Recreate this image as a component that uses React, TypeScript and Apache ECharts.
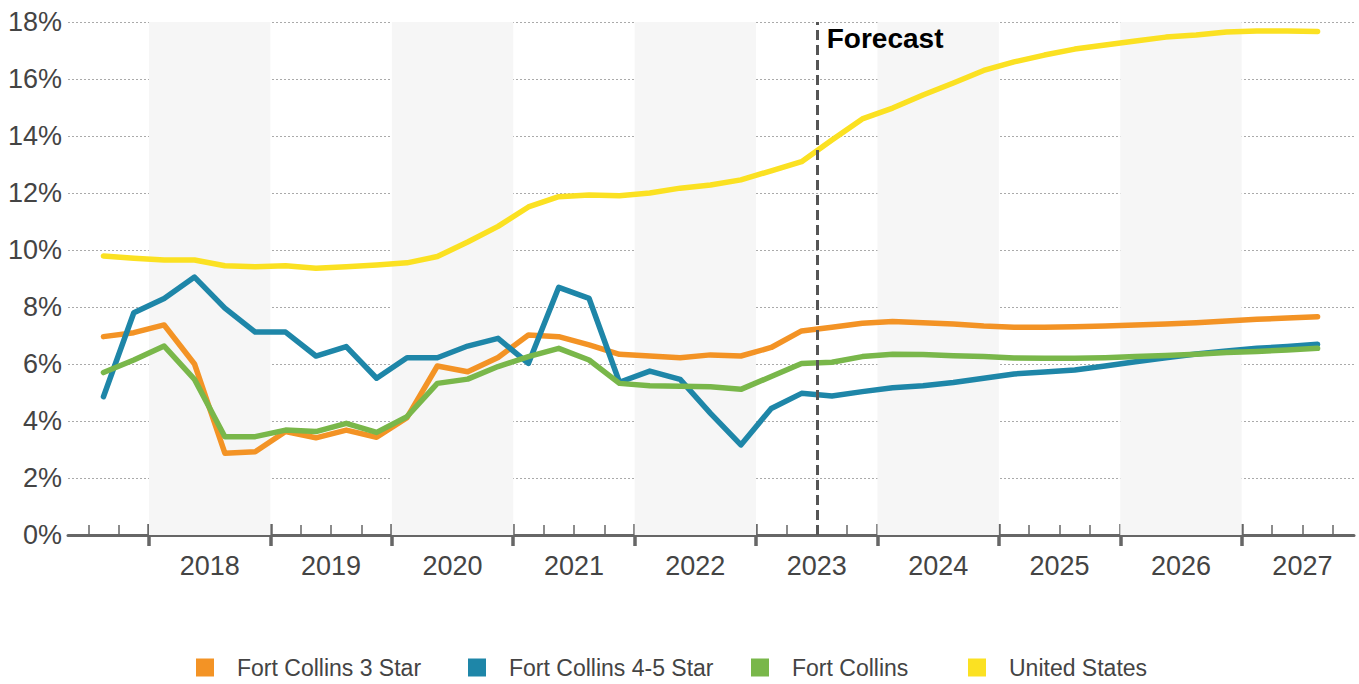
import React, { useEffect, useRef } from 'react';
import * as echarts from 'echarts';

// ---- data (quarterly vacancy, %) ----
const quarters = [
  '2017Q3', '2017Q4',
  '2018Q1', '2018Q2', '2018Q3', '2018Q4',
  '2019Q1', '2019Q2', '2019Q3', '2019Q4',
  '2020Q1', '2020Q2', '2020Q3', '2020Q4',
  '2021Q1', '2021Q2', '2021Q3', '2021Q4',
  '2022Q1', '2022Q2', '2022Q3', '2022Q4',
  '2023Q1', '2023Q2', '2023Q3', '2023Q4',
  '2024Q1', '2024Q2', '2024Q3', '2024Q4',
  '2025Q1', '2025Q2', '2025Q3', '2025Q4',
  '2026Q1', '2026Q2', '2026Q3', '2026Q4',
  '2027Q1', '2027Q2', '2027Q3',
];

const fortCollins3Star = [
  6.96, 7.10, 7.37, 6.00, 2.87, 2.92, 3.63, 3.41, 3.68, 3.43,
  4.12, 5.93, 5.73, 6.23, 7.02, 6.96, 6.67, 6.34, 6.28, 6.22, 6.32,
  6.28, 6.58, 7.16, 7.29, 7.43, 7.49, 7.45, 7.40, 7.33, 7.29, 7.29,
  7.31, 7.33, 7.37, 7.40, 7.45, 7.51, 7.57, 7.61, 7.66,
];

const fortCollins45Star = [
  4.85, 7.80, 8.30, 9.05, 7.96, 7.12, 7.12, 6.28, 6.61, 5.50,
  6.22, 6.22, 6.63, 6.90, 6.02, 8.69, 8.30, 5.36, 5.75, 5.46, 4.27,
  3.16, 4.44, 4.97, 4.88, 5.03, 5.17, 5.24, 5.35, 5.50, 5.65, 5.72,
  5.79, 5.93, 6.08, 6.22, 6.35, 6.46, 6.55, 6.61, 6.69,
];

const fortCollins = [
  5.70, 6.14, 6.63, 5.46, 3.45, 3.45, 3.68, 3.63, 3.92, 3.60,
  4.15, 5.32, 5.47, 5.91, 6.26, 6.55, 6.14, 5.32, 5.24, 5.22, 5.20,
  5.11, 5.56, 6.02, 6.06, 6.26, 6.34, 6.33, 6.29, 6.26, 6.21, 6.20,
  6.20, 6.22, 6.26, 6.30, 6.34, 6.40, 6.44, 6.49, 6.55,
];

const unitedStates = [
  9.79, 9.71, 9.65, 9.65, 9.45, 9.41, 9.45, 9.36, 9.41, 9.47,
  9.55, 9.77, 10.28, 10.83, 11.51, 11.87, 11.93, 11.90, 12.00, 12.17, 12.28,
  12.46, 12.78, 13.10, 13.86, 14.60, 14.98, 15.44, 15.86, 16.30, 16.60, 16.84,
  17.05, 17.19, 17.33, 17.47, 17.54, 17.65, 17.68, 17.68, 17.67,
];

const seriesNames = ['Fort Collins 3 Star', 'Fort Collins 4-5 Star', 'Fort Collins', 'United States'];
const seriesColors = ['#F39325', '#1E86A8', '#79B74A', '#FBE122'];

const yearLabels = ['2018', '2019', '2020', '2021', '2022', '2023', '2024', '2025', '2026', '2027'];
const shadedYears = [2018, 2020, 2022, 2024, 2026];
const forecastStart = 2023.5;
const forecastLabel = 'Forecast';

const FONT = "'Liberation Sans', Arial, Helvetica, sans-serif";
// legend item left positions (layout)
const legendLefts = [196, 468, 751, 968];

function quarterMid(q: string): number {
  const y = Number(q.slice(0, 4));
  const n = Number(q.slice(5));
  return y + (n - 1) / 4 + 0.125;
}

export default function App() {
  const ref = useRef<HTMLDivElement>(null);

  useEffect(() => {
    if (!ref.current) return;
    const chart = echarts.init(ref.current, null, { renderer: 'svg' });

    const xs = quarters.map(quarterMid);
    const pair = (vals: number[]) => vals.map((v, i) => [xs[i], v]);
    const quarterBounds = [...xs.map((x) => x - 0.125), xs[xs.length - 1] + 0.125];
    const yearNums = yearLabels.map(Number);
    const X_MIN = 2017.333;
    const X_MAX = 2027.925;
    const axisColor = '#666666';

    const allData = [fortCollins3Star, fortCollins45Star, fortCollins, unitedStates];

    const series: any[] = allData.map((vals, idx) => ({
      name: seriesNames[idx],
      type: 'line',
      xAxisIndex: 0,
      yAxisIndex: 0,
      data: pair(vals),
      symbol: 'none',
      showSymbol: false,
      z: 3,
      lineStyle: { width: 5.5, color: seriesColors[idx], cap: 'round', join: 'round' },
      itemStyle: { color: seriesColors[idx] },
    }));

    series[0].markArea = {
      silent: true,
      z: 1,
      itemStyle: { color: '#F6F6F6' },
      data: shadedYears.map((y) => [{ xAxis: y }, { xAxis: y + 1 }]),
    };
    series[0].markLine = {
      silent: true,
      symbol: 'none',
      z: 5,
      lineStyle: { color: '#555555', width: 3, type: [10, 5] },
      label: { show: false },
      data: [{ xAxis: forecastStart }],
    };
    series[0].markPoint = {
      silent: true,
      symbol: 'circle',
      symbolSize: 0,
      z: 6,
      data: [{ coord: [forecastStart, 18] }],
      label: {
        show: true,
        position: 'right',
        distance: 10,
        offset: [0, 16],
        formatter: forecastLabel,
        fontSize: 28,
        fontWeight: 'bold',
        color: '#000000',
        fontFamily: FONT,
      },
    };

    const legends = seriesNames.map((name, i) => ({
      data: [name],
      left: legendLefts[i],
      top: 656,
      padding: 0,
      icon: 'rect',
      itemWidth: 18,
      itemHeight: 18,
      textStyle: { fontSize: 23, color: '#444444', fontFamily: FONT, padding: [0, 0, 0, 18] },
    }));

    const option: any = {
      animation: false,
      grid: [
        { left: 68, right: 5, top: 22, bottom: 149 },
        { left: 68, right: 5, top: 22, bottom: 149 },
      ],
      xAxis: [
        {
          type: 'value',
          gridIndex: 0,
          min: X_MIN,
          max: X_MAX,
          axisLine: { show: true, lineStyle: { color: axisColor, width: 3 } },
          axisTick: {
            show: true,
            inside: true,
            length: 10,
            customValues: quarterBounds,
            lineStyle: { color: axisColor, width: 1.5 },
          },
          axisLabel: {
            show: true,
            customValues: yearNums.map((y) => y + 0.5),
            formatter: (v: number) => String(Math.floor(v)),
            fontSize: 27,
            color: '#444444',
            margin: 17,
            fontFamily: FONT,
          },
          splitLine: { show: false },
        },
        {
          type: 'value',
          gridIndex: 1,
          min: X_MIN,
          max: X_MAX,
          offset: -11,
          axisLine: { show: false },
          axisTick: {
            show: true,
            inside: false,
            length: 22,
            customValues: yearNums,
            lineStyle: { color: axisColor, width: 3.5 },
          },
          axisLabel: { show: false },
          splitLine: { show: false },
        },
      ],
      yAxis: [
        {
          type: 'value',
          gridIndex: 0,
          min: 0,
          max: 18,
          interval: 2,
          axisLine: { show: false },
          axisTick: { show: false },
          axisLabel: {
            formatter: '{value}%',
            fontSize: 27,
            color: '#444444',
            margin: 6,
            fontFamily: FONT,
          },
          splitLine: { show: true, lineStyle: { color: '#AAAAAA', type: [2, 2], width: 1.2 } },
        },
        { type: 'value', gridIndex: 1, min: 0, max: 18, show: false },
      ],
      legend: legends,
      series,
    };

    chart.setOption(option);
    return () => chart.dispose();
  }, []);

  return (
    <div
      ref={ref}
      style={{ position: 'absolute', left: 0, top: 0, width: 1359, height: 684 }}
    />
  );
}
